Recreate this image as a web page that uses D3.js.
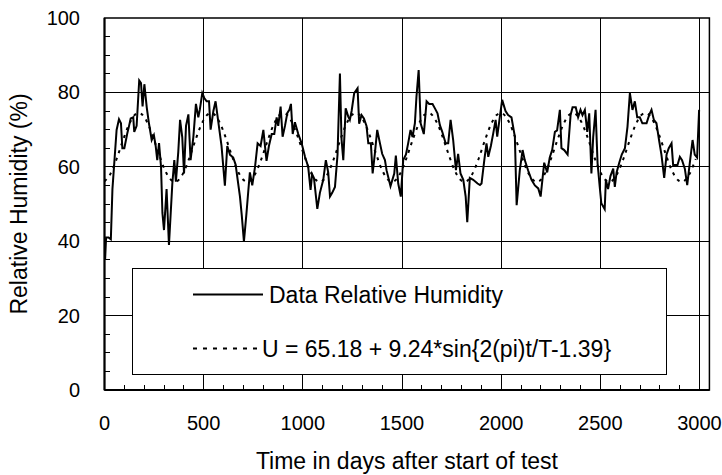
<!DOCTYPE html>
<html>
<head>
<meta charset="utf-8">
<script src="https://cdn.jsdelivr.net/npm/d3@7"></script>
<style>
  body { margin: 0; background: #fff; }
  text { font-family: "Liberation Sans", Arial, sans-serif; fill: #000; }
</style>
</head>
<body>
<div id="chart"></div>
<script>
// Data: measured relative humidity (days after start of test, %)
const days = [3, 8, 20, 32, 40, 61, 73, 83, 90, 100, 115, 123, 132, 145, 150, 162, 175, 184, 192, 201,
  213, 224, 238, 249, 258, 266, 275, 285, 292, 300, 313, 325, 342, 352, 360, 372, 381, 392, 401, 411,
  423, 434, 448, 461, 473, 481, 493, 503, 515, 527, 535, 549, 560, 574, 590, 607, 619, 633, 649, 661,
  683, 692, 703, 715, 725, 733, 745, 759, 772, 787, 801, 809, 817, 829, 843, 856, 868, 876, 888, 898,
  910, 922, 932, 940, 949, 960, 977, 994, 1011, 1027, 1039, 1047, 1056, 1073, 1086, 1103, 1116, 1128, 1137, 1148,
  1162, 1175, 1187, 1195, 1204, 1216, 1229, 1237, 1246, 1259, 1276, 1284, 1296, 1308, 1321, 1330, 1343, 1352, 1363, 1375,
  1389, 1400, 1414, 1422, 1434, 1442, 1461, 1469, 1481, 1494, 1506, 1520, 1531, 1543, 1553, 1565, 1573, 1584, 1594, 1610,
  1624, 1637, 1654, 1666, 1679, 1691, 1703, 1720, 1733, 1745, 1758, 1772, 1783, 1795, 1809, 1821, 1829, 1842, 1859, 1881,
  1893, 1901, 1915, 1926, 1935, 1948, 1960, 1972, 1980, 1993, 2005, 2022, 2035, 2052, 2069, 2078, 2094, 2108, 2119, 2136,
  2153, 2170, 2187, 2199, 2217, 2232, 2245, 2257, 2271, 2282, 2296, 2304, 2318, 2335, 2350, 2360, 2376, 2388, 2400, 2410,
  2422, 2434, 2444, 2455, 2464, 2476, 2486, 2497, 2505, 2522, 2528, 2539, 2551, 2565, 2573, 2582, 2595, 2608, 2624, 2637,
  2649, 2662, 2674, 2686, 2699, 2712, 2733, 2746, 2758, 2770, 2783, 2796, 2808, 2822, 2834, 2845, 2859, 2867, 2879, 2889,
  2901, 2912, 2926, 2938, 2951, 2965, 2976, 2988, 2998];
const humidity = [35, 41, 41, 40.5, 54, 69.9, 72.8, 71.7, 65, 65, 69, 70.8, 73, 73.3, 69.4, 71, 83.2, 82.5, 76.2, 82.2,
  76, 71.7, 67.2, 68.5, 65.6, 61.8, 66.4, 60, 47.6, 43, 54, 39, 55.5, 61.8, 56, 64, 72.6, 68, 58.2, 71,
  74.1, 61.8, 68, 76.9, 73.3, 75.5, 79.8, 78.5, 77.6, 77.6, 70, 75, 77.6, 72, 65.6, 54.9, 65.6, 63.2, 62.5, 60.6,
  52, 47, 39.9, 47, 53.5, 58.5, 55, 60, 66.3, 65.6, 69.9, 65.6, 61.6, 65.6, 68.8, 68.8, 73.3, 71, 76.2, 68.1,
  71, 74.5, 75.3, 76.9, 68.8, 72, 68.8, 66.3, 62.7, 60, 53.8, 58, 57, 48.7, 53, 56.5, 61.8, 58.5, 52, 53,
  54.6, 63.3, 85.1, 67.5, 61.8, 75.7, 73.5, 72.6, 75, 79.8, 81.1, 71.6, 73.9, 73, 71, 66.3, 66.3, 58.2, 63.5, 69.9,
  66.3, 63.5, 61.8, 59.1, 56.5, 54.8, 58.2, 63, 55.5, 52, 61.8, 63.3, 66.3, 69.9, 68, 71.7, 78.9, 86, 71.7, 68.8,
  77.6, 76.9, 76.9, 75.7, 74.4, 71.2, 69.4, 66.3, 66.3, 72.6, 67.2, 59.1, 63.5, 58.2, 56.5, 52, 45.1, 57, 56.5, 55.5,
  55.1, 55.5, 61.8, 66.3, 62.7, 65.6, 69, 72.6, 68.1, 73.3, 78, 75, 73.9, 73.3, 68.1, 49.7, 59.1, 64.5, 61.8, 59,
  56.5, 55, 54.2, 52, 61.1, 58.5, 62.5, 64.5, 69.4, 69.8, 75.3, 65, 64.5, 63.3, 73.9, 76, 76, 73.3, 75.3, 73.9,
  75.3, 69.4, 74.4, 58.2, 68, 75.3, 61, 54.6, 50.2, 48.6, 56.5, 54, 57.5, 59.5, 54.6, 58.5, 61, 63.3, 65, 70.8,
  79.8, 75.3, 77.6, 73.3, 73.3, 71.7, 71.7, 73.9, 75.3, 72.6, 71.7, 67.2, 63.3, 57, 63.3, 65, 66.3, 60.5, 60.5, 60.5,
  62.7, 61.8, 59.5, 55.1, 61, 67.2, 63.3, 62.5, 75.3];

// Fitted curve (about monthly)
const fitDays = [0, 30, 61, 91, 122, 152, 183, 213, 243, 274, 304, 335, 365, 395, 426, 456, 487, 517, 548, 578,
  608, 639, 669, 700, 730, 760, 791, 821, 852, 882, 913, 943, 973, 1004, 1034, 1065, 1095, 1125, 1156, 1186,
  1217, 1247, 1278, 1308, 1338, 1369, 1399, 1430, 1460, 1490, 1521, 1551, 1582, 1612, 1643, 1673, 1703, 1734, 1764, 1795,
  1825, 1855, 1886, 1916, 1947, 1977, 2008, 2038, 2068, 2099, 2129, 2160, 2190, 2220, 2251, 2281, 2312, 2342, 2373, 2403,
  2433, 2464, 2494, 2525, 2555, 2585, 2616, 2646, 2677, 2707, 2738, 2768, 2798, 2829, 2859, 2890, 2920, 2950, 2981];
const fitHumidity = [56.1, 58.1, 62.1, 66.8, 71.2, 73.9, 74.3, 72.2, 68.3, 63.5, 59.2, 56.5, 56.1, 58.1, 62.1, 66.8, 71.2, 73.9, 74.3, 72.2,
  68.3, 63.5, 59.2, 56.5, 56.1, 58.1, 62.1, 66.8, 71.2, 73.9, 74.3, 72.2, 68.3, 63.5, 59.2, 56.5, 56.1, 58.1, 62.1, 66.8,
  71.2, 73.9, 74.3, 72.2, 68.3, 63.5, 59.2, 56.5, 56.1, 58.1, 62.1, 66.8, 71.2, 73.9, 74.3, 72.2, 68.3, 63.5, 59.2, 56.5,
  56.1, 58.1, 62.1, 66.8, 71.2, 73.9, 74.3, 72.2, 68.3, 63.5, 59.2, 56.5, 56.1, 58.1, 62.1, 66.8, 71.2, 73.9, 74.3, 72.2,
  68.3, 63.5, 59.2, 56.5, 56.1, 58.1, 62.1, 66.8, 71.2, 73.9, 74.3, 72.2, 68.3, 63.5, 59.2, 56.5, 56.1, 58.1, 62.1];

const xTicks = [0, 500, 1000, 1500, 2000, 2500, 3000];
const yTicks = [0, 20, 40, 60, 80, 100];
const legendLabels = ["Data Relative Humidity", "U = 65.18 + 9.24*sin{2(pi)t/T-1.39}"];

function draw() {
  const width = 722, height = 475;
  const left = 104.5, top = 18, bottom = 390;
  const xMax = 3050;

  const svg = d3.select("#chart").append("svg")
    .attr("width", width)
    .attr("height", height);

  const xScale = d3.scaleLinear()
    .domain([0, xMax])
    .range([left, left + 595 * xMax / 3000]);
  const yScale = d3.scaleLinear()
    .domain([0, 100])
    .range([bottom, top]);
  const right = xScale(xMax);

  // grid
  const grid = svg.append("g")
    .attr("stroke", "#000")
    .attr("stroke-width", 1)
    .attr("shape-rendering", "crispEdges");
  grid.selectAll(".vg").data(xTicks.slice(1))
    .join("line")
    .attr("x1", d => xScale(d)).attr("x2", d => xScale(d))
    .attr("y1", top).attr("y2", bottom);
  grid.selectAll(".hg").data(yTicks.slice(1, -1))
    .join("line")
    .attr("x1", left).attr("x2", right)
    .attr("y1", d => yScale(d)).attr("y2", d => yScale(d));

  // minor ticks (inside)
  const minorX = d3.range(100, 3001, 100);
  const minorY = d3.range(5, 100, 5);
  grid.selectAll(".mx").data(minorX)
    .join("line")
    .attr("x1", d => xScale(d)).attr("x2", d => xScale(d))
    .attr("y1", bottom).attr("y2", bottom - 5);
  grid.selectAll(".my").data(minorY)
    .join("line")
    .attr("x1", left).attr("x2", left + 5)
    .attr("y1", d => yScale(d)).attr("y2", d => yScale(d));

  // frame
  svg.append("rect")
    .attr("x", left).attr("y", top)
    .attr("width", right - left).attr("height", bottom - top)
    .attr("fill", "none")
    .attr("stroke", "#000")
    .attr("stroke-width", 1.5);
  svg.append("line")
    .attr("x1", left).attr("x2", right)
    .attr("y1", bottom).attr("y2", bottom)
    .attr("stroke", "#000").attr("stroke-width", 2);
  svg.append("line")
    .attr("x1", left).attr("x2", left)
    .attr("y1", top).attr("y2", bottom)
    .attr("stroke", "#000").attr("stroke-width", 2);

  // series
  const dataLine = d3.line()
    .x((d, i) => xScale(days[i]))
    .y(d => yScale(d));
  const fitLine = d3.line()
    .x((d, i) => xScale(fitDays[i]))
    .y(d => yScale(d))
    .curve(d3.curveCardinal);

  svg.append("path")
    .datum(fitHumidity)
    .attr("d", fitLine)
    .attr("fill", "none")
    .attr("stroke", "#000")
    .attr("stroke-width", 2)
    .attr("stroke-dasharray", "3,5");

  svg.append("path")
    .datum(humidity)
    .attr("d", dataLine)
    .attr("fill", "none")
    .attr("stroke", "#000")
    .attr("stroke-width", 2)
    .attr("stroke-linejoin", "miter");

  // axis labels
  svg.selectAll(".xl").data(xTicks)
    .join("text")
    .attr("x", d => xScale(d))
    .attr("y", 430)
    .attr("text-anchor", "middle")
    .attr("font-size", 20)
    .text(d => d);
  svg.selectAll(".yl").data(yTicks)
    .join("text")
    .attr("x", 80)
    .attr("y", d => yScale(d) + 7)
    .attr("text-anchor", "end")
    .attr("font-size", 20)
    .text(d => d);

  svg.append("text")
    .attr("x", (left + right) / 2)
    .attr("y", 469)
    .attr("text-anchor", "middle")
    .attr("font-size", 23)
    .text("Time in days after start of test");
  svg.append("text")
    .attr("transform", `translate(27, ${(top + bottom) / 2}) rotate(-90)`)
    .attr("text-anchor", "middle")
    .attr("font-size", 23)
    .text("Relative Humidity (%)");

  // legend
  const lg = svg.append("g");
  lg.append("rect")
    .attr("x", 132.5).attr("y", 268.5)
    .attr("width", 534).attr("height", 106)
    .attr("fill", "#fff")
    .attr("stroke", "#000")
    .attr("stroke-width", 1);
  lg.append("line")
    .attr("x1", 193).attr("x2", 263)
    .attr("y1", 294.5).attr("y2", 294.5)
    .attr("stroke", "#000").attr("stroke-width", 2);
  lg.append("text")
    .attr("x", 269).attr("y", 302.5)
    .attr("font-size", 23)
    .text(legendLabels[0]);
  lg.append("line")
    .attr("x1", 193).attr("x2", 260)
    .attr("y1", 348.5).attr("y2", 348.5)
    .attr("stroke", "#000").attr("stroke-width", 2)
    .attr("stroke-dasharray", "4,6");
  lg.append("text")
    .attr("x", 262).attr("y", 356.5)
    .attr("font-size", 23)
    .text(legendLabels[1]);
}

draw();
</script>
</body>
</html>
